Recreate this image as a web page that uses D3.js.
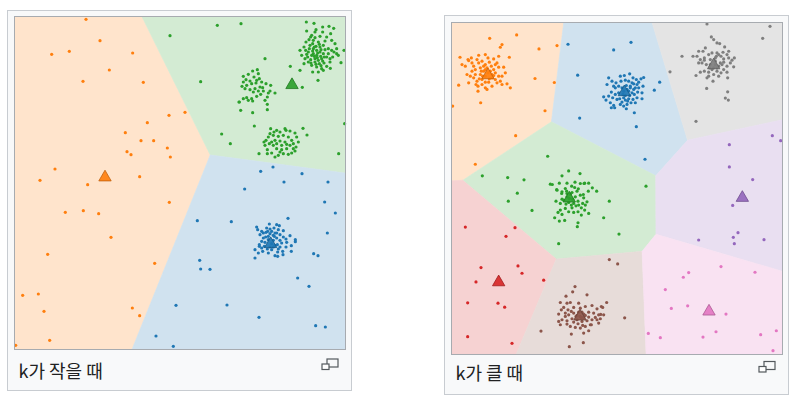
<!DOCTYPE html>
<html>
<head>
<meta charset="utf-8">
<style>
  body { margin: 0; background: #fff; }
  .caption { font-family: "Noto Sans CJK KR", sans-serif; font-size: 18px; fill: #202122; }
</style>
</head>
<body>
<svg width="812" height="407"></svg>
<script src="https://d3js.org/d3.v7.min.js"></script>
<script>
// feature space is 0..990 (x) by 0..996 (y), y grows downward like the image

// ---- k small ----
const smallClusters = ["orange", "green", "blue"];
const smallCentroids = [[270, 481], [831, 204], [767, 681]];

const smallOrange = [
  [213,7],[255,71],[163,103],[110,112],[353,108],[283,159],[204,193],[385,196],[462,295],[397,317],
  [331,347],[378,371],[416,371],[457,393],[336,404],[348,413],[466,420],[120,456],[75,490],[374,479],
  [510,286],[218,503],[463,556],[151,586],[205,581],[251,590],[288,661],[98,712],[419,739],[23,835],
  [70,831],[87,883],[352,873],[374,896],[104,970],[2,985]
];
const smallGreen = [
  [465,56],[607,25],[678,20],[874,15],[897,19],[923,30],[942,28],[956,34],[987,100],[970,115],
  [978,137],[946,154],[909,190],[826,148],[750,125],[862,211],[557,194],[718,327],[620,351],[646,380],
  [864,334],[876,354],[989,320],[971,410],[732,410],[713,287],[677,280],[672,255],[780,228],[757,278],
  // upper right blob
  [875,42],[903,38],[890,55],[915,58],[935,60],[950,70],[960,80],[965,95],[873,75],[867,90],
  [855,100],[860,115],[870,125],[880,135],[890,145],[905,150],[920,155],[935,148],[945,135],[953,120],
  [957,105],[940,95],[925,85],[910,75],[895,70],[885,85],[895,95],[905,100],[915,105],[925,110],
  [935,120],[920,125],[910,130],[900,125],[890,115],[880,105],[895,110],[905,115],[915,90],[930,98],
  [893,80],[883,95],[900,135],[913,140],[927,138],[940,110],[903,88],[875,112],[867,140],[855,160],
  [893,165],[910,165],[925,160],[887,60],[923,45],[947,50],[965,110],[907,122],[917,118],[893,102],
  [923,132],[887,128],[913,82],[900,62],[898,90],[908,108],[918,98],[928,120],[898,118],[888,138],
  [918,146],[903,142],[878,120],[872,100],[945,125],[950,100],[930,72],[900,45],[882,68],
  // middle blob
  [713,162],[727,158],[730,170],[700,172],[685,178],[717,180],[733,185],[693,188],[705,192],[681,208],
  [695,205],[710,200],[723,198],[740,195],[753,200],[767,205],[735,210],[720,215],[705,218],[690,215],
  [745,222],[760,228],[757,240],[737,232],[725,238],[710,245],[695,242],[685,245],[700,250],[713,252],
  [750,250],[757,262],[673,255],[765,222],[715,225],[730,222],[743,212],[685,195],[725,190],
  // lower blob
  [767,335],[785,340],[795,345],[810,335],[825,342],[840,348],[845,360],[850,375],[843,390],[840,402],
  [830,408],[820,412],[805,410],[790,415],[780,420],[770,408],[757,398],[750,385],[753,370],[760,360],
  [765,350],[775,355],[790,358],[805,355],[820,360],[830,370],[825,385],[815,395],[800,398],[785,395],
  [775,385],[770,375],[780,370],[795,372],[810,375],[815,382],[800,385],[785,380],[763,380],[835,380],
  [747,375],[813,340],[777,345],[835,395],[757,410],[795,405]
];
const smallBlue = [
  [737,463],[774,450],[861,470],[807,495],[939,495],[483,865],[423,957],[475,988],[689,516],[929,555],
  [961,588],[937,648],[819,604],[547,611],[649,614],[896,710],[909,716],[554,730],[557,756],[585,757],
  [848,783],[882,808],[636,864],[732,901],[902,926],[931,930],
  [725,630],[728,638],[740,643],[735,653],[753,646],[763,621],[785,623],[793,626],[790,638],[805,641],
  [795,653],[780,648],[770,643],[760,658],[745,663],[740,673],[750,676],[733,688],[720,698],[730,708],
  [743,703],[757,696],[775,690],[787,683],[800,678],[813,666],[825,656],[841,668],[841,674],[829,686],
  [829,703],[813,690],[803,703],[788,705],[780,716],[788,718],[804,713],[720,723],[775,670],[785,663],
  [795,670],[755,633],[745,648],[765,636],[778,658],[770,698],[760,708],[748,688],[740,693],[733,683],
  [765,650],[775,655],[785,648],[760,668],[770,680],[780,685],[795,690],[805,660],[752,660],[765,690],
  [790,696],[815,676],[758,643],[777,633]
];

// ---- k large ----
const largeClusters = ["orange", "blue", "gray", "green", "purple", "red", "brown", "pink"];
const largeCentroids = [[108,157], [517,208], [785,127], [352,528], [871,526], [140,780], [384,883], [771,868]];

const largeOrange = [
  [113,46],[194,36],[150,65],[145,73],[261,78],[315,68],[172,103],[24,103],[50,113],[30,125],
  [249,167],[307,179],[20,187],[175,195],[2,250],[86,240],[279,264],[191,339],[70,425],
  [80,97],[100,95],[108,105],[125,108],[112,118],[135,120],[140,133],[155,133],[150,160],[160,150],
  [165,183],[150,185],[130,170],[120,165],[130,150],[125,140],[95,130],[85,135],[70,140],[60,145],
  [45,155],[55,160],[65,165],[75,175],[50,180],[78,190],[90,185],[100,195],[105,200],[78,205],
  [90,170],[100,160],[85,155],[70,155],[115,145],[100,140],[118,130],[65,130],[58,105],[75,110],
  [90,115],[60,120],[40,130],[135,180],[145,175],[110,178],[120,190],[80,120],[100,125],[130,125],
  [140,100],[48,110],[95,145],[108,150],[120,155],[92,160],[112,168],[82,168],[100,178],[125,158],
  [105,135],[88,145],[140,160],[72,185]
];
const largeBlue = [
  [348,64],[537,58],[485,81],[377,157],[623,178],[607,202],[383,286],[553,312],[579,410],
  [505,160],[517,158],[533,153],[543,165],[553,170],[567,168],[575,164],[573,190],[555,185],[540,180],
  [530,175],[520,172],[507,175],[500,190],[510,195],[523,188],[535,195],[545,200],[557,208],[570,210],
  [570,228],[555,225],[543,230],[530,228],[520,232],[510,238],[503,228],[525,245],[515,250],[533,218],
  [547,215],[560,195],[500,210],[545,183],[530,205],[513,215],[537,240],[523,258],[547,270],[560,178],
  [515,205],[470,165],[480,175],[492,180],[465,185],[490,195],[478,208],[470,220],[490,215],[482,225],
  [462,232],[475,240],[485,248],[488,255],[478,255],[455,222],[485,190],
  [525,200],[540,210],[520,218],[535,190],[550,195],[515,225],[527,235],[550,240],[505,245],[495,230]
];
const largeGray = [
  [765,3],[954,10],[932,46],[690,100],[654,147],[732,158],[764,197],[827,207],[820,226],[829,232],
  [732,296],
  [778,42],[785,50],[795,60],[803,62],[818,72],[830,85],[760,75],[753,85],[740,85],[735,100],
  [723,100],[745,110],[757,105],[770,95],[780,90],[795,90],[800,95],[807,100],[815,108],[830,105],
  [840,112],[847,105],[835,120],[845,132],[825,130],[815,140],[807,150],[825,148],[827,165],[800,160],
  [785,155],[783,175],[770,160],[765,165],[757,145],[745,148],[773,135],[763,125],[750,120],[775,110],
  [790,115],[805,120],[795,135],[780,140],[757,112],[825,95],[793,100],[813,88],[740,120],
  [790,125],[800,130],[810,125],[785,135],[775,125],[795,145],[815,118],[790,105],[770,148]
];
const largeGreen = [
  [287,401],[91,460],[167,465],[216,472],[582,491],[196,512],[169,536],[240,564],[472,536],[455,586],
  [320,664],[376,613],[378,601],[501,635],
  [350,445],[384,453],[330,460],[295,485],[301,486],[322,482],[345,482],[369,479],[385,483],[398,482],
  [410,482],[421,496],[434,506],[314,501],[329,513],[344,506],[359,491],[379,499],[396,483],[409,506],
  [394,516],[315,503],[330,508],[345,513],[360,510],[375,506],[385,518],[395,526],[405,538],[400,548],
  [388,556],[378,568],[365,570],[350,568],[340,558],[325,563],[318,570],[330,576],[322,596],[338,594],
  [308,586],[325,543],[312,536],[335,533],[350,540],[365,543],[378,536],[392,543],[360,556],[345,523],
  [370,523],[410,573],[398,563],[388,578],
  [352,528],[362,530],[342,545],[358,548],[372,550],[330,530],[380,548],[355,515],[340,498],[368,495]
];
const largePurple = [
  [832,366],[961,339],[986,354],[832,433],[902,471],[842,549],[740,653],[844,645],[858,631],[847,664],
  [936,652]
];
const largeRed = [
  [40,614],[189,616],[162,642],[87,736],[198,731],[210,753],[275,774],[72,779],[47,842],[138,843],
  [158,855],[47,944],[180,964]
];
const largeBrown = [
  [472,712],[497,725],[518,887],[267,927],[352,974],[394,962],
  [369,793],[362,809],[405,818],[342,822],[325,841],[380,843],[345,843],[355,841],[335,856],[348,863],
  [365,856],[385,858],[400,853],[420,850],[435,860],[448,853],[464,841],[452,856],[455,878],[440,878],
  [425,873],[410,870],[395,876],[380,870],[365,873],[350,878],[340,883],[330,893],[320,898],[345,896],
  [360,890],[375,893],[390,898],[405,896],[420,893],[435,893],[440,903],[415,908],[400,913],[385,918],
  [370,916],[355,913],[345,906],[325,908],[410,926],[395,933],[358,936],[340,873],[372,883],[388,886],
  [430,886],[418,908],[320,876],[328,863],[445,890],[446,877],
  [384,883],[395,886],[375,880],[390,870],[400,880],[378,905],[392,910],[365,900],[410,885],[358,868]
];
const largePink = [
  [807,733],[909,750],[710,751],[694,765],[640,802],[658,859],[707,851],[822,876],[589,934],[625,947],
  [753,945],[792,929],[926,938],[973,926],[963,986]
];

const palette = {
  blue: "#1f77b4", orange: "#ff7f0e", green: "#2ca02c", red: "#d62728",
  purple: "#9467bd", brown: "#8c564b", pink: "#e377c2", gray: "#7f7f7f"
};

const panels = [
  {
    caption: "k가 작을 때", box: [7.5, 10.5, 344, 380], img: [15, 17, 330, 332], captionY: 377.5,
    clusters: smallClusters, centroids: smallCentroids, points: [smallOrange, smallGreen, smallBlue]
  },
  {
    caption: "k가 클 때", box: [444.5, 15.5, 344, 379], img: [452, 23, 330, 331], captionY: 380,
    clusters: largeClusters, centroids: largeCentroids,
    points: [largeOrange, largeBlue, largeGray, largeGreen, largePurple, largeRed, largeBrown, largePink]
  }
];

const svg = d3.select("svg");
const regionColor = c => d3.interpolateRgb("#ffffff", palette[c])(0.21);

function drawPanel(p) {
  const g = svg.append("g");
  const [bx, by, bw, bh] = p.box;
  const [ix, iy, iw, ih] = p.img;

  g.append("rect")
    .attr("x", bx).attr("y", by).attr("width", bw).attr("height", bh)
    .attr("fill", "#f8f9fa").attr("stroke", "#c8ccd1");

  const x = d3.scaleLinear().domain([0, 990]).range([ix, ix + iw]);
  const y = d3.scaleLinear().domain([0, 996]).range([iy, iy + ih]);

  // decision regions = voronoi cells of the centroids
  const delaunay = d3.Delaunay.from(p.centroids, d => x(d[0]), d => y(d[1]));
  const vor = delaunay.voronoi([ix, iy, ix + iw, iy + ih]);
  g.append("g").selectAll("path")
    .data(p.clusters)
    .join("path")
    .attr("d", (c, i) => vor.renderCell(i))
    .attr("fill", regionColor)
    .attr("stroke", regionColor)
    .attr("stroke-width", 0.6);

  p.clusters.forEach((c, i) => {
    g.append("g").selectAll("circle")
      .data(p.points[i])
      .join("circle")
      .attr("cx", d => x(d[0]))
      .attr("cy", d => y(d[1]))
      .attr("r", 1.6)
      .attr("fill", palette[c]);
  });

  g.append("g").selectAll("path")
    .data(p.centroids)
    .join("path")
    .attr("transform", d => `translate(${x(d[0])},${y(d[1])})`)
    .attr("d", d3.symbol(d3.symbolTriangle, 66))
    .attr("fill", (d, i) => palette[p.clusters[i]])
    .attr("fill-opacity", 0.92)
    .attr("stroke", (d, i) => d3.color(palette[p.clusters[i]]).darker(0.8))
    .attr("stroke-width", 0.8);

  g.append("rect")
    .attr("x", ix - 0.5).attr("y", iy - 0.5).attr("width", iw + 1).attr("height", ih + 1)
    .attr("fill", "none").attr("stroke", "#a7abb0");

  g.append("text")
    .attr("class", "caption")
    .attr("x", bx + 11)
    .attr("y", p.captionY)
    .text(p.caption);

  // enlarge icon
  const ox = bx + bw - 30, oy = p.captionY - 19;
  g.append("rect").attr("x", ox + 5.5).attr("y", oy + 0.5).attr("width", 11).attr("height", 8)
    .attr("fill", "none").attr("stroke", "#54595d").attr("stroke-width", 1.2);
  g.append("rect").attr("x", ox + 0.5).attr("y", oy + 5.5).attr("width", 7).attr("height", 5.5)
    .attr("fill", "#fff").attr("stroke", "#54595d").attr("stroke-width", 1.2);
}

panels.forEach(drawPanel);
</script>
</body>
</html>
